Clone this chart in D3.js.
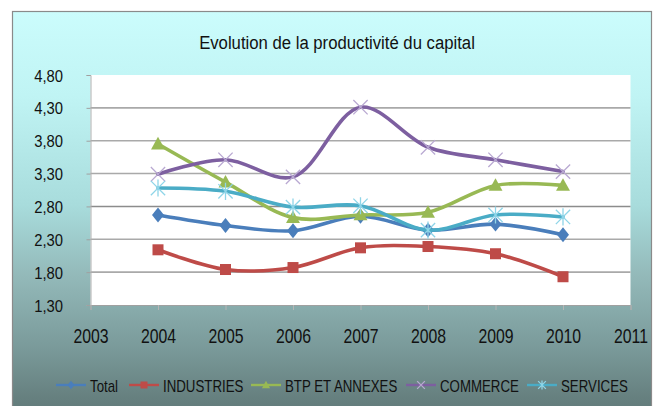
<!DOCTYPE html>
<html>
<head>
<meta charset="utf-8">
<script src="https://cdn.jsdelivr.net/npm/d3@7"></script>
<style>
  body { margin: 0; background: #fff; }
  text { font-family: "Liberation Sans", Arial, sans-serif; fill: #111; }
</style>
</head>
<body>
<div id="content"></div>
<script>
var width = 655, height = 406;

// data
var years = [2004, 2005, 2006, 2007, 2008, 2009, 2010];
var xTicks = [2003, 2004, 2005, 2006, 2007, 2008, 2009, 2010, 2011];
var yTicks = [1.3, 1.8, 2.3, 2.8, 3.3, 3.8, 4.3, 4.8];
var seriesNames = ['Total', 'INDUSTRIES', 'BTP ET ANNEXES', 'COMMERCE', 'SERVICES'];
var total = [2.67, 2.51, 2.43, 2.65, 2.44, 2.53, 2.37];
var industries = [2.14, 1.84, 1.87, 2.17, 2.19, 2.08, 1.73];
var btp = [3.75, 3.17, 2.63, 2.67, 2.71, 3.12, 3.12];
var commerce = [3.29, 3.51, 3.25, 4.31, 3.70, 3.51, 3.33];
var services = [3.08, 3.03, 2.79, 2.81, 2.44, 2.67, 2.64];

var series = [
  {name: seriesNames[0], values: total, color: '#4a7ebb', mark: '#4a7ebb', shape: 'diamond'},
  {name: seriesNames[1], values: industries, color: '#be4b48', mark: '#be4b48', shape: 'square'},
  {name: seriesNames[2], values: btp, color: '#98b954', mark: '#98b954', shape: 'triangle'},
  {name: seriesNames[3], values: commerce, color: '#7d5fa0', mark: '#b9a9d2', shape: 'x'},
  {name: seriesNames[4], values: services, color: '#4aacc6', mark: '#8fd5e8', shape: 'star'}
];

var svg = d3.select('#content').append('svg')
  .attr('width', width)
  .attr('height', height);

var defs = svg.append('defs');
var grad = defs.append('linearGradient')
  .attr('id', 'bg')
  .attr('x1', 0).attr('y1', 0).attr('x2', 0).attr('y2', 1);
[['0%', '#cbfcfc'], ['20%', '#c0f4f4'], ['46%', '#a8dcdc'], ['63%', '#93b9b9'],
 ['80%', '#7a9a9a'], ['92%', '#66807f'], ['100%', '#5e7575']].forEach(function(s){
  grad.append('stop').attr('offset', s[0]).attr('stop-color', s[1]);
});

// squeeze text horizontally, the original uses a narrow face
function narrow(sel, sx) {
  sel.each(function(){
    var t = d3.select(this);
    var x0 = parseFloat(t.attr('x')) || 0;
    t.attr('x', x0 / sx).attr('transform', 'scale(' + sx + ',1)');
  });
}

// chart frame
svg.append('rect')
  .attr('x', 12.5).attr('y', 11.5)
  .attr('width', 639).attr('height', 420)
  .attr('fill', 'url(#bg)')
  .attr('stroke', '#8a8a8a')
  .attr('stroke-width', 1.2);

var x = d3.scaleLinear().domain([2003, 2011]).range([90.5, 630.5]);
var y = d3.scaleLinear().domain([1.3, 4.8]).range([305, 75]);

// plot area
svg.append('rect')
  .attr('x', x(2003)).attr('y', y(4.8))
  .attr('width', x(2011) - x(2003)).attr('height', y(1.3) - y(4.8))
  .attr('fill', '#fff');

var comma = d3.formatLocale({decimal: ',', thousands: ' ', grouping: [3], currency: ['', '']}).format('.2f');

// gridlines
svg.append('g')
  .selectAll('line')
  .data(yTicks.filter(function(d){ return d > 1.3 && d < 4.8; }))
  .enter()
  .append('line')
  .attr('x1', x(2003)).attr('x2', x(2011))
  .attr('y1', function(d){ return y(d); })
  .attr('y2', function(d){ return y(d); })
  .attr('stroke', function(d){ return d === 2.8 ? '#8c8c8c' : '#a9a9a9'; })
  .attr('stroke-width', 1.6);

// y axis
var yAxis = svg.append('g')
  .attr('transform', 'translate(' + x(2003) + ',0)')
  .call(d3.axisLeft(y).tickValues(yTicks).tickFormat(comma).tickSize(4).tickPadding(23.5));
yAxis.select('.domain').attr('stroke', '#b0b0b0');
yAxis.selectAll('.tick line').attr('stroke', '#a0a0a0');
yAxis.selectAll('.tick text')
  .attr('fill', '#111').attr('font-family', null)
  .attr('dy', '0.36em')
  .style('font-size', '17px');
narrow(yAxis.selectAll('.tick text'), 0.87);

// x axis
var xAxis = svg.append('g')
  .attr('transform', 'translate(0,' + y(1.3) + ')')
  .call(d3.axisBottom(x).tickValues(xTicks).tickFormat(d3.format('d')).tickSize(5));
xAxis.select('.domain').attr('stroke', '#a0a0a0');
xAxis.selectAll('.tick line').attr('stroke', '#b5b5b5');
xAxis.selectAll('.tick text')
  .attr('fill', '#111').attr('font-family', null)
  .attr('y', 38).attr('dy', 0)
  .style('font-size', '20px');
narrow(xAxis.selectAll('.tick text'), 0.79);

// title
svg.append('text')
  .attr('x', 337).attr('y', 49)
  .attr('text-anchor', 'middle')
  .style('font-size', '19px')
  .text('Evolution de la productivité du capital')
  .call(narrow, 0.88);

var line = d3.line()
  .x(function(d, i){ return x(years[i]); })
  .y(function(d){ return y(d); })
  .curve(d3.curveCatmullRom.alpha(0.5));

function marker(g, shape, color, s) {
  if (shape === 'diamond') {
    g.append('path').attr('d', 'M0,' + (-s * 0.62) + 'L' + (s * 0.5) + ',0L0,' + (s * 0.62) + 'L' + (-s * 0.5) + ',0Z').attr('fill', color);
  } else if (shape === 'square') {
    g.append('rect').attr('x', -s / 2).attr('y', -s / 2).attr('width', s).attr('height', s).attr('fill', color);
  } else if (shape === 'triangle') {
    g.append('path').attr('d', 'M0,' + (-s * 0.6) + 'L' + (s * 0.58) + ',' + (s * 0.45) + 'L' + (-s * 0.58) + ',' + (s * 0.45) + 'Z').attr('fill', color);
  } else if (shape === 'x') {
    var h = s * 0.55;
    g.append('path').attr('d', 'M' + (-h) + ',' + (-h) + 'L' + h + ',' + h + 'M' + h + ',' + (-h) + 'L' + (-h) + ',' + h)
      .attr('stroke', color).attr('stroke-width', 1.3).attr('fill', 'none');
  } else if (shape === 'star') {
    var h2 = s * 0.55;
    g.append('path').attr('d', 'M' + (-h2) + ',' + (-h2) + 'L' + h2 + ',' + h2 + 'M' + h2 + ',' + (-h2) + 'L' + (-h2) + ',' + h2 + 'M0,' + (-h2 * 1.2) + 'L0,' + (h2 * 1.2))
      .attr('stroke', color).attr('stroke-width', 1.3).attr('fill', 'none');
  }
}

var sizes = {diamond: 12, square: 11, triangle: 12, x: 13, star: 13};

series.forEach(function(s) {
  var g = svg.append('g');
  g.append('path')
    .attr('d', line(s.values))
    .attr('stroke', s.color)
    .attr('stroke-width', 3.6)
    .attr('stroke-linecap', 'round')
    .attr('stroke-linejoin', 'round')
    .attr('fill', 'none');
  s.values.forEach(function(v, i) {
    var m = g.append('g').attr('transform', 'translate(' + x(years[i]) + ',' + y(v) + ')');
    marker(m, s.shape, s.mark, sizes[s.shape]);
  });
});

// legend
var legendX = [56, 129, 251, 406, 527];
var legend = svg.append('g').attr('transform', 'translate(0,385)');
series.forEach(function(s, i) {
  var lg = legend.append('g').attr('transform', 'translate(' + legendX[i] + ',0)');
  lg.append('line').attr('x1', 0).attr('x2', 30).attr('y1', 0).attr('y2', 0)
    .attr('stroke', s.color).attr('stroke-width', 2.4);
  var m = lg.append('g').attr('transform', 'translate(15,0)');
  marker(m, s.shape, s.shape === 'x' || s.shape === 'star' ? s.mark : s.color, 7);
  lg.append('text').attr('x', 34).attr('y', 6.5)
    .style('font-size', '16px')
    .text(s.name)
    .call(narrow, 0.83);
});
</script>
</body>
</html>
